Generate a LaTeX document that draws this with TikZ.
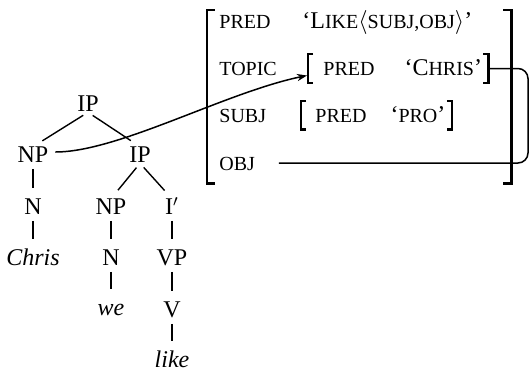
\documentclass[tikz,border=0pt]{standalone}
\usepackage{fontspec}
\setmainfont{Liberation Serif}
\usetikzlibrary{arrows.meta}
\newcommand\fsc[1]{{\fontsize{10}{12}\selectfont #1}}
\newcommand\avmbrk[2]{%
 \draw[brk] ([xshift=#2]#1.north west) -- (#1.north west) -- (#1.south west) -- ([xshift=#2]#1.south west);
 \draw[brk] ([xshift=-#2]#1.north east) -- (#1.north east) -- (#1.south east) -- ([xshift=-#2]#1.south east);}
\begin{document}
\begin{tikzpicture}[x=0.5pt,y=-0.5pt,>={Stealth[length=5pt,width=3.6pt]},
  every node/.style={font=\fontsize{12}{14}\selectfont},
  cat/.style={inner sep=0pt,text height=7.9pt,text depth=0pt},
  br/.style={line width=0.7pt,shorten <=2.8pt,shorten >=5.5pt},
  attr/.style={anchor=west,inner sep=0pt,text height=7pt,text depth=0pt},
  fbox/.style={anchor=west,inner xsep=3pt,inner ysep=0pt,text height=10.5pt,text depth=3.5pt},
  brk/.style={line width=1.1pt},
  link/.style={line width=0.75pt}]
 \useasboundingbox (0,0) rectangle (530,371);
 % c-structure
 \node[cat] (ip1) at (88,104) {IP};
 \node[cat] (np1) at (33,155) {NP};
 \node[cat] (ip2) at (140,155) {IP};
 \node[cat] (n1) at (33,207) {N};
 \node[cat] (np2) at (111,207) {NP};
 \node[cat] (ibar) at (172,207) {I$'$};
 \node[cat] (chris) at (33,258) {\itshape Chris};
 \node[cat] (n2) at (111,258) {N};
 \node[cat] (vp) at (172,258) {VP};
 \node[cat] (we) at (111,308) {\itshape we};
 \node[cat] (v) at (172,310) {V};
 \node[cat] (like) at (172,360) {\itshape like};
 \draw[br] (ip1.south) -- (np1.north);
 \draw[br] (ip1.south) -- (ip2.north);
 \draw[br] (np1.south) -- (n1.north);
 \draw[br] (n1.south) -- (chris.north);
 \draw[br] (ip2.south) -- (np2.north);
 \draw[br] (ip2.south) -- (ibar.north);
 \draw[br] (np2.south) -- (n2.north);
 \draw[br] (n2.south) -- (we.north);
 \draw[br] (ibar.south) -- (vp.north);
 \draw[br] (vp.south) -- (v.north);
 \draw[br] (v.south) -- (like.north);
 % f-structure
 \node[inner sep=0pt,minimum width=152pt,minimum height=86.5pt] (fs) at (359,96.5) {};
 \avmbrk{fs}{4pt}
 \node[attr] (pred) at (219,21) {\fsc{PRED}};
 \node[attr] (topic) at (219,68) {\fsc{TOPIC}};
 \node[attr] (subj) at (219,115) {\fsc{SUBJ}};
 \node[attr] (obj) at (219,163) {\fsc{OBJ}};
 \node[attr] (predv) at (302,21) {`L\fsc{IKE}$\langle$\fsc{SUBJ,OBJ}$\rangle$'};
 \node[fbox] (tf) at (308,68.5) {\hspace{4.5pt}\fsc{PRED}\hspace{15pt}`C\fsc{HRIS}'\hspace{3pt}};
 \avmbrk{tf}{2.5pt}
 \node[fbox] (sf) at (301,115) {\hspace{4pt}\fsc{PRED}\hspace{12pt}`\fsc{PRO}'\hspace{1.5pt}};
 \avmbrk{sf}{2.5pt}
 % links
 \coordinate (turn) at (528,163);
 \draw[link,->] ([shift={(3.3pt,1.5pt)}]np1.east) .. controls +(63,0) and +(-82,17) .. ([shift={(-0.5pt,-3.5pt)}]tf.west);
 \draw[link,rounded corners=5pt] (tf.east) -| (turn) -- ([xshift=11.7pt]obj.east);
\end{tikzpicture}
\end{document}
